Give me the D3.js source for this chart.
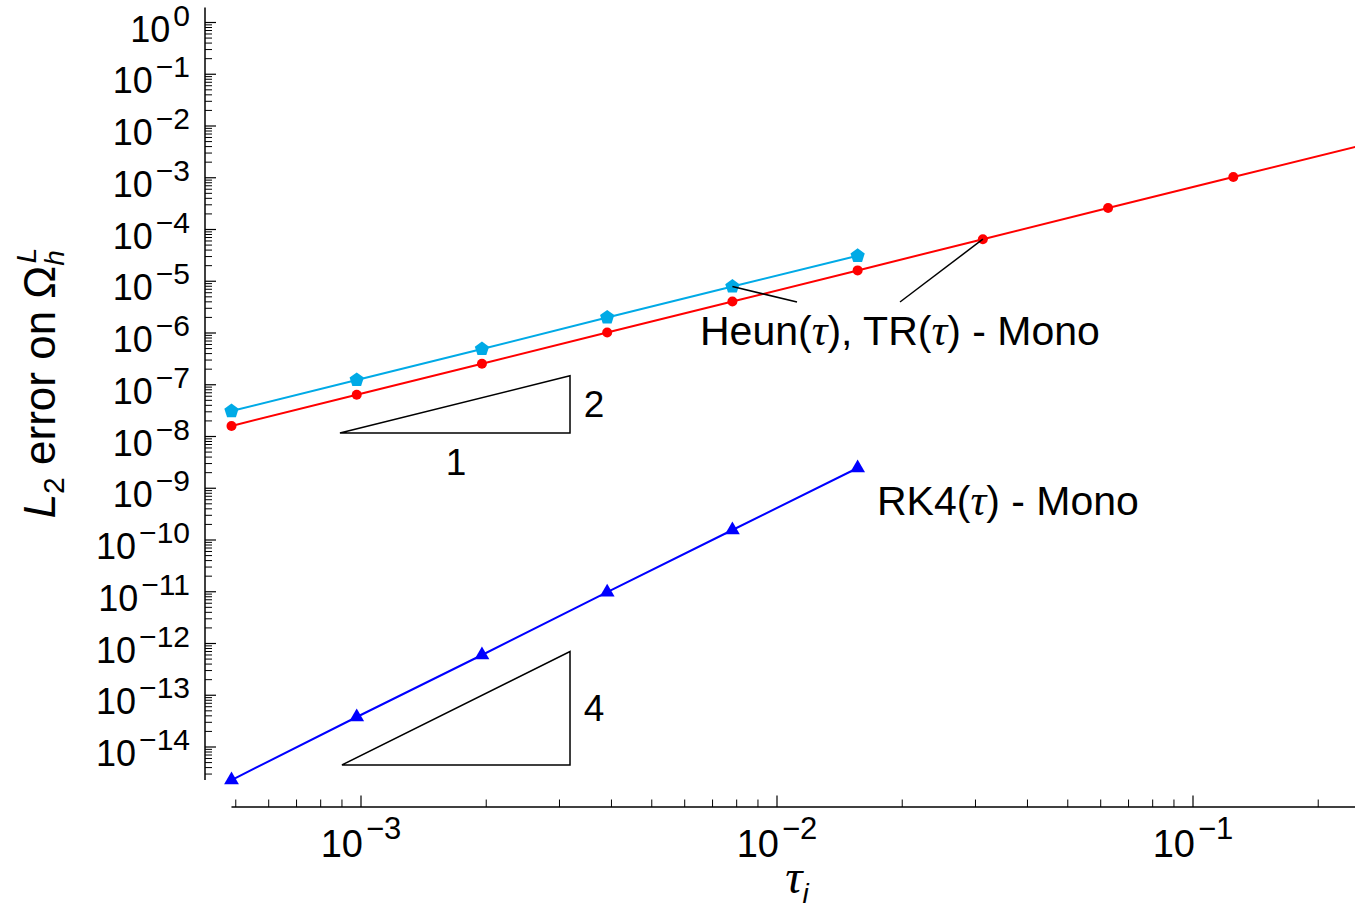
<!DOCTYPE html>
<html>
<head>
<meta charset="utf-8">
<script src="https://cdn.jsdelivr.net/npm/d3@7"></script>
<style>
  body { margin: 0; background: #fff; }
  svg { display: block; font-family: "Liberation Sans", Arial, sans-serif; }
</style>
</head>
<body>
<svg id="chart" width="1355" height="912"></svg>
<script>
const width = 1355;
const height = 912;

// step sizes tau = 2^-11 ... 2^-2
const tau = [0.00048828125, 0.0009765625, 0.001953125, 0.00390625, 0.0078125,
             0.015625, 0.03125, 0.0625, 0.125, 0.25];
const trError = [1.6e-8, 6.4e-8, 2.55e-7, 1.02e-6, 4.05e-6, 1.62e-5, 6.5e-5, 2.6e-4, 1.03e-3, 4.1e-3];
const heunError = [3.1e-8, 1.24e-7, 4.9e-7, 2.0e-6, 7.9e-6, 3.1e-5];
const rk4Error = [2.3e-15, 3.8e-14, 6.0e-13, 9.8e-12, 1.56e-10, 2.46e-9];

// tick labels (decade exponents)
const yDecades = [0, -1, -2, -3, -4, -5, -6, -7, -8, -9, -10, -11, -12, -13, -14];
const xDecades = [-3, -2, -1];

// slope triangles: [tau start, tau end, error at base, order]
const slopeTriangles = [
  [8.9e-4, 3.18e-3, 1.17e-8, 2],
  [9.0e-4, 3.18e-3, 4.5e-15, 4]
];

const svg = d3.select('#chart');

// log scales, one decade = 416px in x and 51.75px in y
const x = d3.scaleLog().domain([1e-4, 1]).range([-55, 1609]);
const y = d3.scaleLog().domain([1e-15, 10]).range([798.75, -29.25]);

const yAxisX = 205;
const xAxisY = 807;
const yTop = 1.95;

const mathMinus = s => String(s).replace('-', '\u2212');

// ---- y axis ----
const gy = svg.append('g');
gy.append('line')
  .attr('x1', yAxisX).attr('x2', yAxisX)
  .attr('y1', y(d3.min(rk4Error))).attr('y2', y(yTop))
  .attr('stroke', '#000').attr('stroke-width', 1.5);

const yMinor = [];
for (let e = -15; e <= 0; e++) {
  for (let m = 2; m <= 9; m++) {
    const v = m * Math.pow(10, e);
    if (v >= d3.min(rk4Error) && v <= yTop) yMinor.push(v);
  }
}
gy.selectAll('.yminor').data(yMinor).enter().append('line')
  .attr('x1', yAxisX).attr('x2', yAxisX + 7)
  .attr('y1', d => y(d)).attr('y2', d => y(d))
  .attr('stroke', '#000').attr('stroke-width', 1);
gy.selectAll('.ymajor').data(yDecades).enter().append('line')
  .attr('x1', yAxisX).attr('x2', yAxisX + 11)
  .attr('y1', d => y(Math.pow(10, d))).attr('y2', d => y(Math.pow(10, d)))
  .attr('stroke', '#000').attr('stroke-width', 1.2);

const yLab = gy.selectAll('.ylab').data(yDecades).enter().append('text')
  .attr('x', 190)
  .attr('y', d => y(Math.pow(10, d)) + 19)
  .attr('text-anchor', 'end')
  .attr('font-size', 36);
yLab.append('tspan').text('10');
yLab.append('tspan').attr('dy', -16).attr('dx', 3).attr('font-size', 30).text(d => mathMinus(d));

// ---- x axis ----
const gx = svg.append('g');
gx.append('line')
  .attr('x1', x(tau[0])).attr('x2', width)
  .attr('y1', xAxisY).attr('y2', xAxisY)
  .attr('stroke', '#000').attr('stroke-width', 1.5);

const xMinor = [];
for (let e = -4; e <= 0; e++) {
  for (let m = 2; m <= 9; m++) {
    const v = m * Math.pow(10, e);
    if (x(v) >= x(tau[0]) - 0.5 && x(v) <= width) xMinor.push(v);
  }
}
gx.selectAll('.xminor').data(xMinor).enter().append('line')
  .attr('x1', d => x(d)).attr('x2', d => x(d))
  .attr('y1', xAxisY).attr('y2', xAxisY - 7.5)
  .attr('stroke', '#000').attr('stroke-width', 1);
gx.selectAll('.xmajor').data(xDecades).enter().append('line')
  .attr('x1', d => x(Math.pow(10, d))).attr('x2', d => x(Math.pow(10, d)))
  .attr('y1', xAxisY).attr('y2', xAxisY - 11.5)
  .attr('stroke', '#000').attr('stroke-width', 1.2);

const xLab = gx.selectAll('.xlab').data(xDecades).enter().append('text')
  .attr('x', d => x(Math.pow(10, d)))
  .attr('y', xAxisY + 50)
  .attr('text-anchor', 'middle')
  .attr('font-size', 38);
xLab.append('tspan').text('10');
xLab.append('tspan').attr('dy', -18).attr('dx', 3).attr('font-size', 31).text(d => mathMinus(d));

// axis titles
const xTitle = svg.append('text')
  .attr('x', 797).attr('y', 893)
  .attr('text-anchor', 'middle')
  .attr('font-family', '"Liberation Serif", serif')
  .attr('font-style', 'italic')
  .attr('font-size', 48);
xTitle.append('tspan').text('\u03c4');
xTitle.append('tspan').attr('dy', 10).attr('font-size', 28)
  .attr('font-family', '"Liberation Sans", Arial, sans-serif').text('i');

const yTitle = svg.append('text')
  .attr('transform', 'translate(55,383) rotate(-90)')
  .attr('text-anchor', 'middle')
  .attr('font-size', 44);
yTitle.append('tspan').attr('font-style', 'italic').text('L');
yTitle.append('tspan').attr('dy', 9).attr('font-size', 30).text('2');
yTitle.append('tspan').attr('dy', -9).text(' error on \u03a9');
yTitle.append('tspan').attr('dy', 9).attr('font-size', 28).attr('font-style', 'italic').text('h');
yTitle.append('tspan').attr('dy', -28).attr('dx', -13).attr('font-size', 28).attr('font-style', 'italic').text('L');

// ---- series ----
const line = d3.line().x(d => x(d[0])).y(d => y(d[1]));
const pairs = vals => vals.map((v, i) => [tau[i], v]);
const visible = vals => pairs(vals).filter(d => x(d[0]) <= width);

const series = [
  { vals: trError, color: '#ff0000' },
  { vals: heunError, color: '#00aae6' },
  { vals: rk4Error, color: '#0000ff' }
];

series.forEach(s => {
  svg.append('path')
    .attr('d', line(pairs(s.vals)))
    .attr('fill', 'none')
    .attr('stroke', s.color)
    .attr('stroke-width', 2);
});

// markers
svg.selectAll('.tr').data(visible(trError)).enter().append('circle')
  .attr('cx', d => x(d[0])).attr('cy', d => y(d[1])).attr('r', 5)
  .attr('fill', '#ff0000');

const pentagon = r => d3.range(5).map(i => {
  const a = -Math.PI / 2 + i * 2 * Math.PI / 5;
  return [r * Math.cos(a), r * Math.sin(a)];
});
svg.selectAll('.heun').data(visible(heunError)).enter().append('path')
  .attr('transform', d => `translate(${x(d[0])},${y(d[1])})`)
  .attr('d', 'M' + pentagon(7.5).join('L') + 'Z')
  .attr('fill', '#00aae6');

svg.selectAll('.rk4').data(visible(rk4Error)).enter().append('path')
  .attr('transform', d => `translate(${x(d[0])},${y(d[1])})`)
  .attr('d', d3.symbol(d3.symbolTriangle, 95))
  .attr('fill', '#0000ff');

// ---- slope triangles ----
svg.append('clipPath').attr('id', 'plotClip')
  .append('rect').attr('x', 0).attr('y', 0).attr('width', width).attr('height', 781);

slopeTriangles.forEach(([t0, t1, e0, p]) => {
  const e1 = e0 * Math.pow(t1 / t0, p);
  svg.append('path')
    .attr('d', `M${x(t0)},${y(e0)}L${x(t1)},${y(e0)}L${x(t1)},${y(e1)}Z`)
    .attr('fill', 'none').attr('stroke', '#000').attr('stroke-width', 1.5);
  svg.append('text')
    .attr('x', x(t1) + 24).attr('y', (y(e0) + y(e1)) / 2 + 13)
    .attr('text-anchor', 'middle').attr('font-size', 37).text(p);
  svg.append('text')
    .attr('x', (x(t0) + x(t1)) / 2 + 1).attr('y', y(e0) + 42)
    .attr('text-anchor', 'middle').attr('font-size', 37)
    .attr('clip-path', 'url(#plotClip)').text('1');
});

// ---- annotations ----
function label(px, py, parts) {
  const t = svg.append('text').attr('x', px).attr('y', py).attr('font-size', 41);
  parts.forEach(p => {
    const ts = t.append('tspan').text(p);
    if (p === '\u03c4') {
      ts.attr('font-family', '"Liberation Serif", serif').attr('font-style', 'italic').attr('font-size', 44);
    }
  });
}

svg.append('line')
  .attr('x1', x(tau[4])).attr('y1', y(heunError[4]))
  .attr('x2', 797).attr('y2', 302)
  .attr('stroke', '#000').attr('stroke-width', 1.5);
svg.append('line')
  .attr('x1', x(tau[6])).attr('y1', y(trError[6]))
  .attr('x2', 900).attr('y2', 302)
  .attr('stroke', '#000').attr('stroke-width', 1.5);

label(700, 345, ['Heun(', '\u03c4', '), TR(', '\u03c4', ') - Mono']);
label(877, 515, ['RK4(', '\u03c4', ') - Mono']);
</script>
</body>
</html>
